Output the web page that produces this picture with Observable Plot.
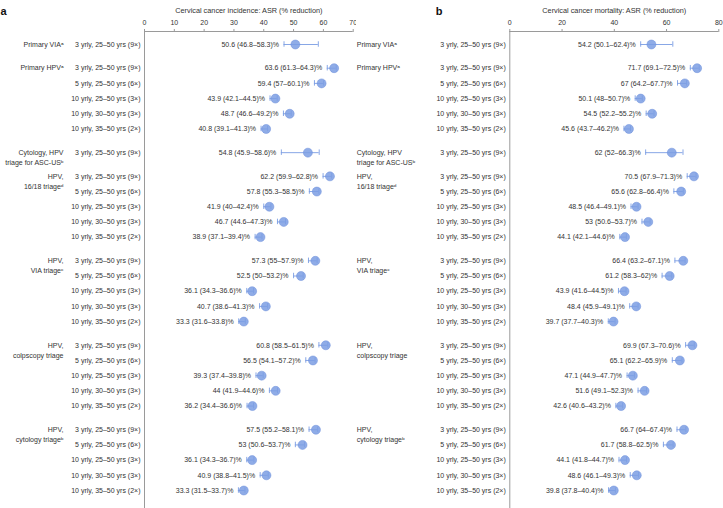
<!DOCTYPE html>
<html>
<head>
<meta charset="utf-8">
<script src="https://cdn.jsdelivr.net/npm/d3@7"></script>
<script src="https://cdn.jsdelivr.net/npm/@observablehq/plot@0.6"></script>
<style>
  html, body { margin: 0; padding: 0; background: #fff; }
  #wrap { display: flex; width: 723px; height: 508px; }
  #wrap svg { display: block; }
</style>
</head>
<body>
<div id="wrap"></div>
<script>
// ---------- data ----------
const strategies = [
  ["Primary VIAᵃ", ""],
  ["Primary HPVᵃ", ""],
  ["Cytology, HPV", "triage for ASC-USᵇ"],
  ["HPV,", "16/18 triageᵈ"],
  ["HPV,", "VIA triageᶜ"],
  ["HPV,", "colpscopy triage"],
  ["HPV,", "cytology triageᵇ"]
];
const regimens = [
  "3 yrly, 25–50 yrs (9×)",
  "5 yrly, 25–50 yrs (6×)",
  "10 yrly, 25–50 yrs (3×)",
  "10 yrly, 30–50 yrs (3×)",
  "10 yrly, 35–50 yrs (2×)"
];
// regimens evaluated for each strategy (indices into regimens)
const strategyRegimens = [[0], [0,1,2,3,4], [0], [0,1,2,3,4], [0,1,2,3,4], [0,1,2,3,4], [0,1,2,3,4]];

const incidence   = [50.6, 63.6, 59.4, 43.9, 48.7, 40.8, 54.8, 62.2, 57.8, 41.9, 46.7, 38.9, 57.3, 52.5, 36.1, 40.7, 33.3, 60.8, 56.5, 39.3, 44, 36.2, 57.5, 53, 36.1, 40.9, 33.3];
const incidenceLo = [46.8, 61.3, 57, 42.1, 46.6, 39.1, 45.9, 59.9, 55.3, 40, 44.6, 37.1, 55, 50, 34.3, 38.6, 31.6, 58.5, 54.1, 37.4, 41.9, 34.4, 55.2, 50.6, 34.3, 38.8, 31.5];
const incidenceHi = [58.3, 64.3, 60.1, 44.5, 49.2, 41.3, 58.6, 62.8, 58.5, 42.4, 47.3, 39.4, 57.9, 53.2, 36.6, 41.3, 33.8, 61.5, 57.2, 39.8, 44.6, 36.6, 58.1, 53.7, 36.7, 41.5, 33.7];

const mortality   = [54.2, 71.7, 67, 50.1, 54.5, 45.6, 62, 70.5, 65.6, 48.5, 53, 44.1, 66.4, 61.2, 43.9, 48.4, 39.7, 69.9, 65.1, 47.1, 51.6, 42.6, 66.7, 61.7, 44.1, 48.6, 39.8];
const mortalityLo = [50.1, 69.1, 64.2, 48, 52.2, 43.7, 52, 67.9, 62.8, 46.4, 50.6, 42.1, 63.2, 58.3, 41.6, 45.9, 37.7, 67.3, 62.2, 44.9, 49.1, 40.6, 64, 58.8, 41.8, 46.1, 37.8];
const mortalityHi = [62.4, 72.5, 67.7, 50.7, 55.2, 46.2, 66.3, 71.3, 66.4, 49.1, 53.7, 44.6, 67.1, 62, 44.5, 49.1, 40.3, 70.6, 65.9, 47.7, 52.3, 43.2, 67.4, 62.5, 44.7, 49.3, 40.4];

const incidenceTicks = [0, 10, 20, 30, 40, 50, 60, 70];
const mortalityTicks = [0, 20, 40, 60, 80];

// ---------- layout helpers ----------
const GAP = 1.56; // extra spacing between strategy groups (in row units)
const rowsBase = [];
const groups = [];
{
  let pos = 0, i = 0;
  strategyRegimens.forEach((regs, g) => {
    if (g > 0) pos += GAP;
    groups.push({line1: strategies[g][0], line2: strategies[g][1], pos});
    regs.forEach((r, j) => {
      if (j > 0) pos += 1;
      rowsBase.push({i, g, regimen: regimens[r], pos});
      i++;
    });
  });
}
const lastPos = rowsBase[rowsBase.length - 1].pos;
const K = 446 / lastPos;               // px per row unit
const yMin = -13 / K, yMax = lastPos + 18 / K;

const BLUE = "#7b9de3";
const TXT = "#333";
const AX = "#9a9a9a";
const FONT = "'Liberation Sans', Arial, sans-serif";

function fmt(v, lo, hi) { return `${v} (${lo}–${hi})%`; }

function panel({width, marginLeft, marginRight, xMax, ticks, title, letter, letterDx, vals, los, his, groupDx, groupAnchor}) {
  const rows = rowsBase.map(d => ({...d, v: vals[d.i], lo: los[d.i], hi: his[d.i]}));
  return Plot.plot({
    width, height: 508,
    marginLeft, marginRight, marginTop: 31, marginBottom: 0,
    style: {overflow: "visible", fontFamily: FONT, background: "#fff"},
    x: {domain: [0, xMax], ticks},
    y: {domain: [yMin, yMax], reverse: true, axis: null},
    marks: [
      Plot.axisX({anchor: "top", ticks, tickSize: 3, tickPadding: 4, label: null, fontSize: 7, stroke: AX, fill: TXT}),
      Plot.ruleX([0], {stroke: AX, strokeWidth: 1}),
      Plot.ruleY([yMin], {stroke: AX, strokeWidth: 1}),
      Plot.text([title], {frameAnchor: "top", dy: -24, fontSize: 7.3, fill: TXT}),
      Plot.text([letter], {frameAnchor: "top-left", dx: letterDx, dy: -24, fontSize: 11, fontWeight: "bold", fill: "#111", textAnchor: "start"}),
      // error bars
      Plot.ruleY(rows, {x1: "lo", x2: "hi", y: "pos", stroke: BLUE, strokeWidth: 0.9}),
      Plot.ruleX(rows, {x: "lo", y1: d => d.pos - 0.18, y2: d => d.pos + 0.18, stroke: BLUE, strokeWidth: 0.9}),
      Plot.ruleX(rows, {x: "hi", y1: d => d.pos - 0.18, y2: d => d.pos + 0.18, stroke: BLUE, strokeWidth: 0.9}),
      Plot.dot(rows, {x: "v", y: "pos", r: 4.5, fill: BLUE, fillOpacity: 0.85, stroke: "#6c8fdb", strokeWidth: 0.5}),
      // value labels
      Plot.text(rows, {x: "lo", y: "pos", text: d => fmt(d.v, d.lo, d.hi), textAnchor: "end", dx: -5, fontSize: 7, fill: TXT}),
      // regimen labels
      Plot.text(rows, {y: "pos", frameAnchor: "left", text: "regimen", textAnchor: "end", dx: -4, fontSize: 7, fill: TXT}),
      // strategy labels
      Plot.text(groups, {y: "pos", frameAnchor: "left", text: "line1", textAnchor: groupAnchor, dx: groupDx, fontSize: 7, fill: TXT}),
      Plot.text(groups.filter(d => d.line2), {y: "pos", frameAnchor: "left", text: "line2", textAnchor: groupAnchor, dx: groupDx, dy: 10, fontSize: 7, fill: TXT})
    ]
  });
}

const wrap = document.getElementById("wrap");
wrap.appendChild(panel({
  width: 356, marginLeft: 144, marginRight: 3.3, xMax: 70, ticks: incidenceTicks,
  title: "Cervical cancer incidence: ASR (% reduction)", letter: "a", letterDx: -144,
  vals: incidence, los: incidenceLo, his: incidenceHi,
  groupDx: -81, groupAnchor: "end"
}));
wrap.appendChild(panel({
  width: 367, marginLeft: 153.3, marginRight: 4.7, xMax: 80, ticks: mortalityTicks,
  title: "Cervical cancer mortality: ASR (% reduction)", letter: "b", letterDx: -74,
  vals: mortality, los: mortalityLo, his: mortalityHi,
  groupDx: -153, groupAnchor: "start"
}));
</script>
</body>
</html>
